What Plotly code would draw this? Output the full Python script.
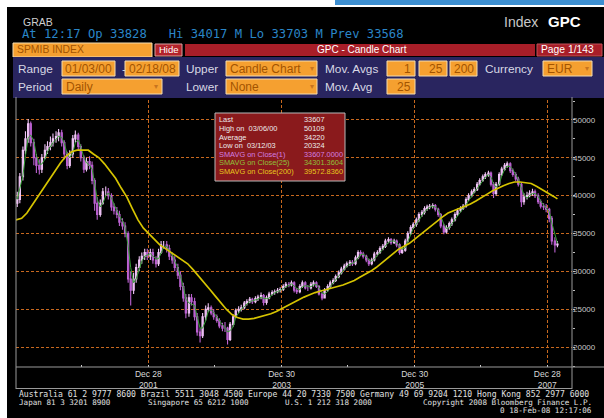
import plotly.graph_objects as go
import pandas as pd

W, H = 604, 418

# ---------------- data (semi-monthly candles) ----------------
FIRST_OPEN = 39000
CLOSE = [
    # 2000
    39500, 42500, 46000, 47500, 49500, 47000, 45000, 44000, 43500, 45000, 46000, 46500,
    47000, 47500, 47800, 48300, 47000, 45500, 44000, 45500, 47500, 48000, 46500, 45000,
    # 2001
    43500, 44500, 44000, 42000, 39000, 37500, 39000, 40500, 40500, 40000, 38500, 38000,
    37500, 36500, 36000, 35000, 29000, 27500, 29000, 30500, 31500, 32000, 32500, 32000,
    # 2002
    32500, 31500, 31000, 32500, 33500, 33500, 33000, 32000, 31500, 30500, 29500, 28000,
    26500, 24500, 26500, 26000, 24000, 22000, 21500, 24000, 25000, 25200, 24500, 24000,
    # 2003
    23500, 22800, 22500, 22500, 21000, 23000, 24000, 24800, 25000, 25200, 25800, 26000,
    26300, 26000, 26400, 26600, 26800, 25900, 26500, 27000, 27200, 27300, 27500, 27600,
    # 2004
    28000, 28300, 28200, 28500, 27500, 27300, 28000, 28500, 27800, 27800, 28300, 28500,
    28000, 27000, 26500, 27500, 28000, 28500, 28800, 29300, 29800, 30300, 30700, 31000,
    # 2005
    31200, 31000, 31800, 32500, 32300, 32000, 31500, 31000, 31500, 32300, 32500, 33000,
    33300, 34000, 34200, 33800, 34000, 33500, 32500, 32800, 34000, 35000, 35800, 36200,
    # 2006
    36800, 37500, 37800, 38300, 38500, 38600, 38700, 38200, 37500, 36000, 35200, 35800,
    36300, 36800, 37500, 38000, 38300, 38600, 39500, 40000, 40500, 40800, 41500, 42000,
    # 2007
    42500, 42800, 43000, 41500, 40300, 41500, 42800, 43500, 44000, 44200, 43300, 42800,
    42200, 41500, 39200, 39800, 40000, 40300, 40500, 40000, 39200, 38600, 38500, 38200,
    # 2008
    37000, 34000, 33500, 33607,
]
HIGH = [
    40500, 43000, 46500, 48500, 50109, 49800, 47500, 45500, 44800, 45500, 46800, 47200,
    47800, 48200, 48500, 48800, 48700, 47300, 45800, 46000, 48000, 48600, 48300, 46800,
    45300, 45000, 45200, 44500, 42300, 39800, 39500, 41000, 41200, 41000, 40300, 39000,
    38500, 38000, 37000, 36500, 35300, 30000, 29800, 31000, 32000, 32500, 33000, 33000,
    33000, 33000, 32000, 33000, 34000, 34000, 34000, 33500, 32500, 32000, 31000, 30000,
    28500, 27000, 27000, 27000, 26500, 24500, 22500, 24500, 25500, 25800, 25500, 25000,
    24300, 23800, 23200, 23300, 22700, 23300, 24300, 25100, 25400, 25600, 26100, 26300,
    26600, 26500, 26700, 26900, 27200, 27000, 26800, 27300, 27500, 27600, 27800, 27900,
    28300, 28600, 28600, 28800, 28700, 27800, 28300, 28800, 28700, 28200, 28600, 28800,
    28700, 28200, 27200, 27800, 28300, 28800, 29100, 29600, 30100, 30600, 31000, 31300,
    31500, 31500, 32100, 32800, 32800, 32600, 32200, 31700, 31800, 32600, 32800, 33300,
    33600, 34300, 34500, 34400, 34300, 34200, 33700, 33100, 34300, 35300, 36100, 36500,
    37100, 37800, 38100, 38600, 38800, 38900, 39000, 38900, 38400, 37700, 36300, 36100,
    36600, 37100, 37800, 38300, 38600, 38900, 39800, 40300, 40800, 41100, 41800, 42300,
    42800, 43100, 43300, 43200, 41800, 41800, 43100, 43800, 44300, 44500, 44400, 43600,
    43100, 42500, 41800, 40300, 40500, 40700, 40900, 40800, 40300, 39500, 39000, 38900,
    38400, 37300, 34500, 34017,
]
LOW = [
    38500, 39000, 42000, 45500, 47000, 46500, 44000, 43000, 42800, 43000, 44800, 45500,
    46000, 46500, 47000, 47200, 46500, 44800, 43500, 43700, 45000, 47000, 46000, 44500,
    43000, 43200, 43500, 41500, 38000, 36800, 37200, 38800, 40000, 39500, 38000, 37500,
    37000, 36000, 35500, 34500, 28500, 25500, 27000, 28500, 30000, 31000, 31500, 31500,
    31500, 31000, 30500, 30700, 32300, 33000, 32500, 31500, 31000, 30000, 29000, 27500,
    26000, 23800, 24000, 25500, 23500, 21500, 20600, 21200, 23500, 24600, 24200, 23600,
    23200, 22500, 22100, 22000, 20324, 20800, 22700, 23800, 24500, 24700, 25000, 25500,
    25800, 25700, 25800, 26100, 26300, 25500, 25600, 26300, 26800, 26900, 27100, 27200,
    27400, 27800, 27900, 28000, 27200, 27000, 27100, 27800, 27600, 27400, 27600, 28000,
    27800, 26800, 26200, 26400, 27300, 27800, 28300, 28600, 29100, 29600, 30100, 30500,
    30700, 30700, 30800, 31600, 32000, 31700, 31200, 30700, 30800, 31300, 32000, 32300,
    32800, 33100, 33700, 33500, 33600, 33200, 32200, 32300, 32600, 33800, 34800, 35600,
    35900, 36500, 37200, 37500, 38000, 38200, 38300, 37900, 37200, 35700, 34900, 35000,
    35500, 36000, 36600, 37300, 37800, 38100, 38400, 39300, 39800, 40300, 40600, 41300,
    41800, 42200, 42500, 41200, 39700, 40000, 41300, 42600, 43300, 43700, 43000, 42500,
    41900, 41200, 38500, 38800, 39500, 39800, 40000, 39700, 38900, 38300, 38100, 37800,
    36500, 33500, 32500, 33200,
]
# 200-day moving average, read at each month start (Jan 2000 .. Feb 2008) + last value
SMA200 = [
    36800, 37000, 37700, 38800, 40000, 41000, 42000, 43200, 44300, 45200, 45800, 46000,
    46000, 46000, 45500, 45000, 44200, 43200, 42300, 41000, 39800, 38300, 36800, 35700,
    34900, 34200, 33500, 33000, 32500, 32000, 31500, 31000, 30200, 29300, 28400, 27600,
    26700, 25800, 25000, 24300, 23900, 23700, 23700, 23800, 24000, 24200, 24400, 24700,
    25100, 25500, 25900, 26200, 26600, 26900, 27200, 27400, 27600, 27800, 28000, 28200,
    28500, 28800, 29200, 29600, 30000, 30500, 31100, 31700, 32300, 32900, 33300, 33700,
    34300, 34900, 35500, 36100, 36700, 37200, 37700, 38000, 38300, 38600, 38900, 39300,
    39800, 40200, 40600, 41000, 41300, 41600, 41800, 41800, 41700, 41600, 41200, 40800,
    40400, 39900, 39573,
]
SMA25_WINDOW = 3  # semi-monthly periods ~ 25 trading days

Y_TICKS = [20000, 25000, 30000, 35000, 40000, 45000, 50000]
X_TICKS = ["2001-12-28", "2003-12-30", "2005-12-30", "2007-12-28"]
X_TICKTEXT = ["Dec 28<br>2001", "Dec 30<br>2003", "Dec 30<br>2005", "Dec 28<br>2007"]

LEGEND_LABELS = ["Last", "High on  03/06/00", "Average", "Low on  03/12/03",
                 "SMAVG on Close(1)", "SMAVG on Close(25)", "SMAVG on Close(200)"]
LEGEND_VALUES = ["33607", "50109", "34220", "20324", "33607.0000", "34301.3604", "39572.8360"]
LEGEND_COLORS = ["#ececec", "#ececec", "#ececec", "#ececec", "#d27ee0", "#8fc23a", "#e8c81c"]

# ---------------- build ----------------
dates = []
for yy in range(2000, 2009):
    for mo in range(1, 13):
        for d in (8, 22):
            dates.append(pd.Timestamp(yy, mo, d))
dates = dates[:len(CLOSE)]
opens = [FIRST_OPEN] + CLOSE[:-1]
sma25 = pd.Series(CLOSE).rolling(SMA25_WINDOW, min_periods=1).mean().tolist()

ydates = list(pd.date_range("2000-01-01", periods=len(SMA200) - 1, freq="MS")) + [pd.Timestamp("2008-02-22")]


def px(x):
    return x / W


def py(y):
    return 1 - y / H


fig = go.Figure()
fig.add_trace(go.Candlestick(
    x=dates, open=opens, high=HIGH, low=LOW, close=CLOSE,
    increasing=dict(line=dict(color="#f0c4f6", width=1.1), fillcolor="#dc9cec"),
    decreasing=dict(line=dict(color="#bc62d2", width=1.1), fillcolor="#a650c4"),
    whiskerwidth=0, showlegend=False, hoverinfo="skip"))
fig.add_trace(go.Scatter(x=dates, y=sma25, mode="lines",
                         line=dict(color="#34a034", width=1), showlegend=False, hoverinfo="skip"))
fig.add_trace(go.Scatter(x=ydates, y=SMA200, mode="lines",
                         line=dict(color="#d6c400", width=1.7), showlegend=False, hoverinfo="skip"))

shapes = []


def rect(x0, y0, x1, y1, fill, line=None, lw=1, layer="below"):
    shapes.append(dict(type="rect", xref="paper", yref="paper",
                       x0=px(x0), x1=px(x1), y0=py(y1), y1=py(y0),
                       fillcolor=fill, line=dict(color=line or fill, width=lw if line else 0),
                       layer=layer))


def hline(x0, x1, y, color="#9a9a9a", w=1):
    shapes.append(dict(type="line", xref="paper", yref="paper", x0=px(x0), x1=px(x1),
                       y0=py(y), y1=py(y), line=dict(color=color, width=w), layer="above"))


def vline(x, y0, y1, color="#9a9a9a", w=1):
    shapes.append(dict(type="line", xref="paper", yref="paper", x0=px(x), x1=px(x),
                       y0=py(y0), y1=py(y1), line=dict(color=color, width=w), layer="above"))


# white page margins and blue strip (paper itself is black)
rect(0, 0, 604, 7, "#ffffff")
rect(0, 0, 7, 418, "#ffffff")
rect(335, 0, 604, 5, "#3d8fd1")
# row 1
rect(13, 43, 152, 57, "#f5a030", "#f3dcb0")
rect(155, 44, 182, 56, "#b3232b", "#d9a0a0")
rect(185, 44, 535, 56, "#a81e28")
rect(537, 44, 602, 56, "#a81e28", "#c25058")
# navy panel
rect(13, 57, 604, 98, "#29255f")
ORANGE = "#f5a030"
BOXLINE = "#f3dcb0"
for (a, b) in [(62, 115), (125, 179), (226, 317), (387, 415), (419, 447), (450, 477), (543, 592)]:
    rect(a, 61, b, 76, ORANGE, BOXLINE)
for (a, b) in [(62, 162), (226, 317), (387, 415)]:
    rect(a, 79, b, 94, ORANGE, BOXLINE)
# legend box
rect(215, 113, 345, 181, "#8a1a1c", "#b8b8b8", 1, layer="above")
# frame lines
vline(16, 97, 389)
vline(572, 97, 389)
hline(16, 604, 367)
hline(16, 572, 388.5)

ann = []


def text(x, y, s, size=11, color="#d8d8e4", anchor="left", family="Liberation Sans", bold=False):
    if bold:
        s = "<b>" + s + "</b>"
    ann.append(dict(xref="paper", yref="paper", x=px(x), y=py(y), text=s, showarrow=False,
                    xanchor=anchor, yanchor="middle", font=dict(size=size, color=color, family=family)))


text(21, 22, "GRAB", 10.5, "#cfcfcf")
text(502, 22, "Index", 14, "#c8c8c8")
text(546, 22, "GPC", 15, "#ffffff", bold=True)
text(20, 34, "At 12:17 Op 33828   Hi 34017 M Lo 33703 M Prev 33568", 12.2, "#2a86c8",
     family="DejaVu Sans Mono")
BOXTXT = "#a35400"
text(15, 50, "SPMIB INDEX", 10.4, BOXTXT)
text(168.5, 50, "Hide", 9.5, "#ffffff", anchor="center")
text(362, 50, "GPC - Candle Chart", 10, "#ffffff", anchor="center")
text(539, 50, "Page 1/143", 10.3, "#ffffff")
# row 2
text(16, 68.5, "Range", 11.8)
text(88.5, 68.5, "01/03/00", 12, BOXTXT, anchor="center")
text(120, 68.5, "-", 11.8)
text(152, 68.5, "02/18/08", 12, BOXTXT, anchor="center")
text(184, 68.5, "Upper", 11.8)
text(228, 68.5, "Candle Chart", 12, BOXTXT)
text(323, 68.5, "Mov. Avgs", 11.8)
text(413, 68.5, "1", 12, BOXTXT, anchor="right")
text(445, 68.5, "25", 12, BOXTXT, anchor="right")
text(476, 68.5, "200", 12, BOXTXT, anchor="right")
text(483, 68.5, "Currency", 11.8)
text(545, 68.5, "EUR", 12, BOXTXT)
# row 3
text(16, 86.5, "Period", 11.8)
text(64, 86.5, "Daily", 12, BOXTXT)
text(184, 86.5, "Lower", 11.8)
text(228, 86.5, "None", 12, BOXTXT)
text(323, 86.5, "Mov. Avg", 11.8)
text(413, 86.5, "25", 12, BOXTXT, anchor="right")
for (x, y) in [(312, 68.5), (587, 68.5), (156, 86.5), (312, 86.5)]:
    text(x, y, "▾", 8, "#c8741e", anchor="center")
# legend
LEG_Y = [119, 128, 137, 145.5, 154, 162.5, 172]
for lab, val, col, yy in zip(LEGEND_LABELS, LEGEND_VALUES, LEGEND_COLORS, LEG_Y):
    text(217, yy, lab, 7.4, col)
    text(302, yy, val, 7.4, col)
# footer
MONO = "DejaVu Sans Mono"
FOOT = 7.6
text(17, 393.5, "Australia 61 2 9777 8600 Brazil 5511 3048 4500 Europe 44 20 7330 7500 Germany 49 69 9204 1210 Hong Kong 852 2977 6000",
     8.1, "#e0e0e0", family=MONO)
text(17, 402, "Japan 81 3 3201 8900", FOOT, "#e0e0e0", family=MONO)
text(146, 402, "Singapore 65 6212 1000", FOOT, "#e0e0e0", family=MONO)
text(283, 402, "U.S. 1 212 318 2000", FOOT, "#e0e0e0", family=MONO)
text(594, 402, "Copyright 2008 Bloomberg Finance L.P.", FOOT, "#e0e0e0", anchor="right", family=MONO)
text(594, 410, "0 18-Feb-08 12:17:06", FOOT, "#e0e0e0", anchor="right", family=MONO)

GRID = "#c8681e"
fig.update_layout(
    width=W, height=H, autosize=False,
    margin=dict(l=0, r=0, t=0, b=0),
    paper_bgcolor="#000000", plot_bgcolor="#000000",
    shapes=shapes, annotations=ann, showlegend=False,
    xaxis=dict(domain=[px(16), px(572)], type="date",
               range=["2000-01-01", "2008-05-12"],
               tickvals=X_TICKS, ticktext=X_TICKTEXT,
               showgrid=True, gridcolor=GRID, gridwidth=1.3, griddash="3px,2px",
               zeroline=False, showline=False, ticks="",
               tickfont=dict(size=8.5, color="#d8d8d8", family="Liberation Sans"),
               rangeslider=dict(visible=False), fixedrange=True,
               minor=dict(ticks="inside", ticklen=2, tickcolor="#d0d0d0", dtick="M12",
                          tick0="2000-12-28", showgrid=False)),
    yaxis=dict(domain=[py(367), py(100)], range=[17368, 52632], side="right",
               tickvals=Y_TICKS, ticktext=[str(v) for v in Y_TICKS],
               showgrid=True, gridcolor=GRID, gridwidth=1.3, griddash="3px,2px",
               zeroline=False, showline=False, ticks="",
               tickfont=dict(size=8, color="#c8c8c8", family="Liberation Sans"),
               fixedrange=True,
               minor=dict(ticks="outside", ticklen=2, tickcolor="#c0c0c0", dtick=2500,
                          showgrid=False)),
)

fig.write_html("out.html", config={"displayModeBar": False},
               post_script="document.body.style.margin='0';document.body.style.overflow='hidden';")
